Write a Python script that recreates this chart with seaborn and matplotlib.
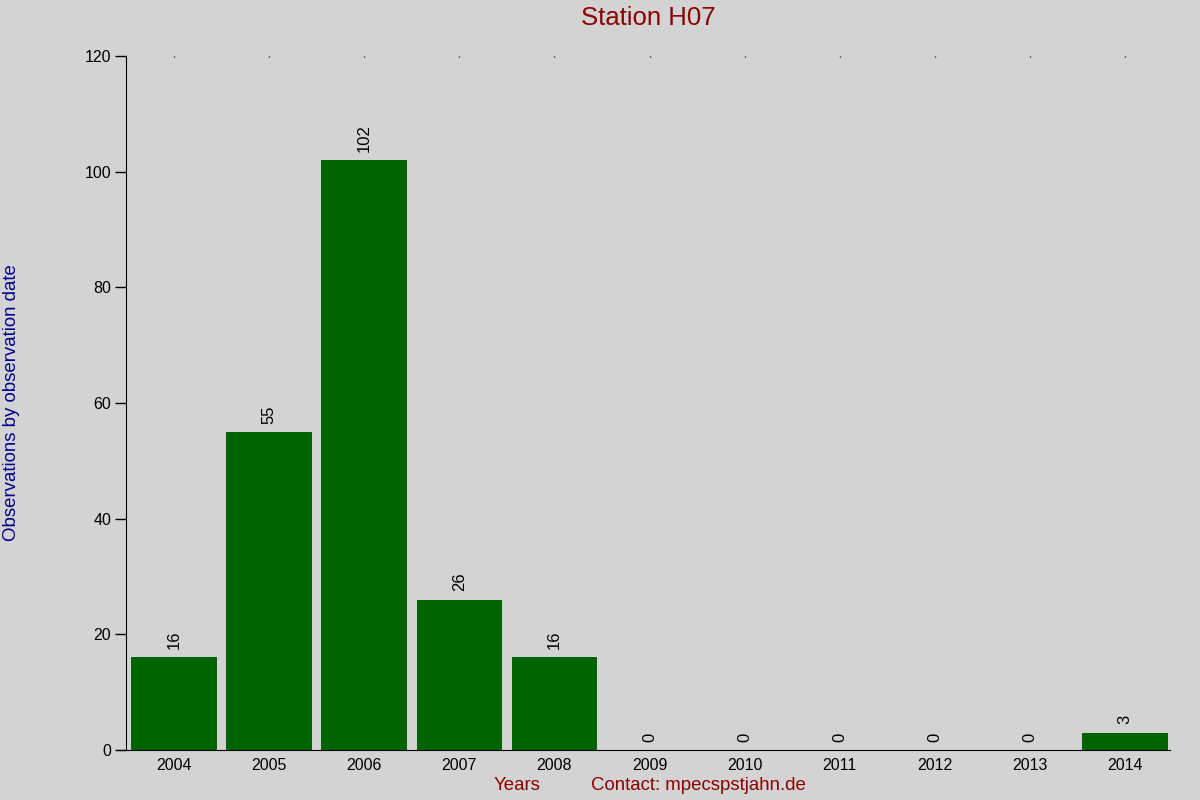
import matplotlib
matplotlib.use("Agg")
import matplotlib.pyplot as plt
import seaborn as sns

years = ["2004", "2005", "2006", "2007", "2008", "2009", "2010", "2011", "2012", "2013", "2014"]
counts = [16, 55, 102, 26, 16, 0, 0, 0, 0, 0, 3]
y_ticks = [0, 20, 40, 60, 80, 100, 120]

BG = "#d3d3d3"
BAR = "#006400"
RED = "#8b0000"
BLUE = "#00008b"


def plot_station(years, counts):
    sns.set_style("white")
    plt.rcParams['font.family'] = ['Liberation Sans', 'DejaVu Sans']

    fig = plt.figure(figsize=(12, 8), dpi=100, facecolor=BG)
    ax = fig.add_axes([118 / 1200, 50 / 800, 1052 / 1200, 694 / 800])
    ax.set_facecolor(BG)

    sns.barplot(x=years, y=counts, color=BAR, saturation=1, width=0.9,
                linewidth=0, ax=ax)

    # value labels above each bar
    for i, v in enumerate(counts):
        ax.annotate(str(v), (i, v), xytext=(0, 6), textcoords="offset points",
                    rotation=90, ha="center", va="bottom", fontsize=12, color="black")

    ax.set_xlim(-0.589, 10.473)
    ax.set_ylim(0, 120)
    ax.set_yticks(y_ticks)

    for s in ["top", "right"]:
        ax.spines[s].set_visible(False)
    ax.spines["left"].set_position(("data", -0.5))
    ax.spines["left"].set_color("black")
    ax.spines["bottom"].set_color("black")

    ax.tick_params(axis="y", left=True, length=8, width=1, labelsize=11.5,
                   colors="black", labelcolor="black", pad=3)
    ax.tick_params(axis="x", bottom=False, top=True, direction="in", length=1,
                   width=1, labelsize=11.5, colors="black", labelcolor="black", pad=6)
    ax.set_xlabel("")
    ax.set_ylabel("")

    fig.text(648 / 1200, 1 - 18 / 800, "Station H07", color=RED, fontsize=18.5,
             ha="center", va="center")
    fig.text(12 / 1200, 1 - 403 / 800, "Observations by observation date", color=BLUE,
             fontsize=13.4, rotation=90, ha="center", va="center")
    fig.text(517 / 1200, 1 - 786 / 800, "Years", color=RED, fontsize=13.4,
             ha="center", va="center")
    fig.text(698 / 1200, 1 - 786 / 800, "Contact: mpecspstjahn.de", color=RED, fontsize=13.4,
             ha="center", va="center")

    fig.savefig("out.png", dpi=100, facecolor=BG)


if __name__ == "__main__":
    plot_station(years, counts)
